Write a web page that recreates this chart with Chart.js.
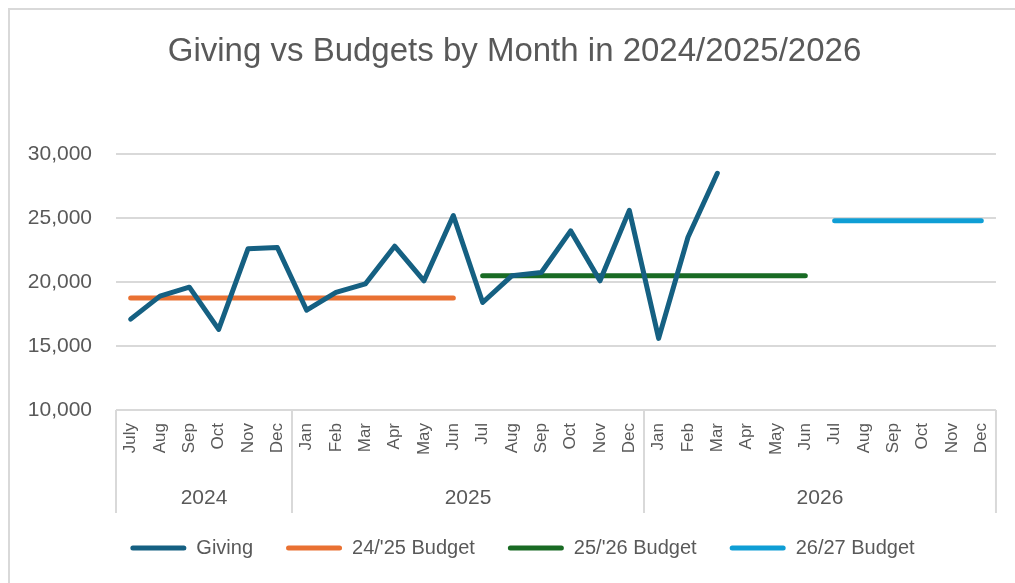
<!DOCTYPE html>
<html lang="en">
<head>
    <meta charset="UTF-8">
    <title>Giving vs Budgets by Month</title>
    <script src="https://cdn.jsdelivr.net/npm/chart.js@4.4.1/dist/chart.umd.min.js"></script>
    <style>
        html, body { margin: 0; padding: 0; background: #fff; overflow: hidden; }
        .frame { position: absolute; left: 8px; top: 8px; width: 1005px; height: 573px;
                 border-left: 2px solid #d9d9d9; border-top: 2px solid #d9d9d9; }
    </style>
</head>
<body>
    <div class="frame"><canvas id="chart"></canvas></div>

    <script>
        const months = ['July', 'Aug', 'Sep', 'Oct', 'Nov', 'Dec',
            'Jan', 'Feb', 'Mar', 'Apr', 'May', 'Jun', 'Jul', 'Aug', 'Sep', 'Oct', 'Nov', 'Dec',
            'Jan', 'Feb', 'Mar', 'Apr', 'May', 'Jun', 'Jul', 'Aug', 'Sep', 'Oct', 'Nov', 'Dec'];
        const years = ['2024', '2025', '2026'];
        const yearStarts = [0, 6, 18, 30];

        const giving = [17100, 18900, 19600, 16300, 22600, 22700,
            17800, 19200, 19850, 22800, 20100, 25200, 18400, 20500, 20750, 24000, 20100, 25600,
            15600, 23500, 28500];
        const budget2425 = [18750, 18750, 18750, 18750, 18750, 18750,
            18750, 18750, 18750, 18750, 18750, 18750];
        const budget2526 = [null, null, null, null, null, null, null, null, null, null, null, null,
            20500, 20500, 20500, 20500, 20500, 20500, 20500, 20500, 20500, 20500, 20500, 20500];
        const budget2627 = [null, null, null, null, null, null, null, null, null, null, null, null,
            null, null, null, null, null, null, null, null, null, null, null, null,
            24800, 24800, 24800, 24800, 24800, 24800];

        const font = "'Liberation Sans', Arial, sans-serif";
        const textColor = '#595959';
        const gridColor = '#d9d9d9';

        // year row under the month labels, with the group separators
        const yearAxis = {
            id: 'yearAxis',
            afterLayout(chart) {
                // title and legend sit a little right of the canvas centre in the original
                chart.titleBlock.left += 11;
                chart.titleBlock.right += 11;
                chart.legend.left += 19;
                chart.legend.right += 19;
            },
            afterDraw(chart) {
                const x = chart.scales.x;
                const ctx = chart.ctx;
                const bottom = chart.chartArea.bottom;
                const half = (x.getPixelForValue(1) - x.getPixelForValue(0)) / 2;
                ctx.save();
                ctx.strokeStyle = gridColor;
                ctx.lineWidth = 2;
                yearStarts.forEach(i => {
                    const px = i < months.length ? x.getPixelForValue(i) - half : x.getPixelForValue(months.length - 1) + half;
                    ctx.beginPath();
                    ctx.moveTo(px, bottom);
                    ctx.lineTo(px, bottom + 103);
                    ctx.stroke();
                });
                ctx.fillStyle = textColor;
                ctx.font = '21px ' + font;
                ctx.textAlign = 'center';
                ctx.textBaseline = 'middle';
                years.forEach((y, k) => {
                    const a = x.getPixelForValue(yearStarts[k]) - half;
                    const b = x.getPixelForValue(yearStarts[k + 1] - 1) + half;
                    ctx.fillText(y, (a + b) / 2, bottom + 88);
                });
                ctx.restore();
            }
        };

        function line(label, data, color) {
            return {
                label: label,
                data: data,
                borderColor: color,
                backgroundColor: color,
                borderWidth: 5,
                pointRadius: 0,
                borderCapStyle: 'round',
                borderJoinStyle: 'round',
                tension: 0,
                spanGaps: false
            };
        }

        new Chart(document.getElementById('chart'), {
            type: 'line',
            data: {
                labels: months,
                datasets: [
                    line('Giving', giving, '#156082'),
                    line("24/'25 Budget", budget2425, '#E97132'),
                    line("25/'26 Budget", budget2526, '#196B24'),
                    line('26/27 Budget', budget2627, '#0F9ED5')
                ]
            },
            options: {
                responsive: true,
                maintainAspectRatio: false,
                animation: false,
                layout: { padding: { left: 0, right: 18, top: 0, bottom: 15 } },
                plugins: {
                    title: {
                        display: true,
                        text: 'Giving vs Budgets by Month in 2024/2025/2026',
                        color: textColor,
                        font: { family: font, size: 33, weight: 'normal' },
                        padding: { top: 22, bottom: 82.5 }
                    },
                    legend: {
                        position: 'bottom',
                        labels: {
                            color: textColor,
                            font: { family: font, size: 20 },
                            boxWidth: 56,
                            boxHeight: 5,
                            padding: 33,
                            generateLabels(chart) {
                                return Chart.defaults.plugins.legend.labels.generateLabels(chart).map(item => {
                                    item.lineWidth = 0;
                                    item.borderRadius = 2.5;
                                    return item;
                                });
                            }
                        }
                    },
                    tooltip: { enabled: false }
                },
                scales: {
                    x: {
                        offset: true,
                        grid: { display: false, drawTicks: false },
                        border: { display: false },
                        ticks: {
                            color: textColor,
                            font: { family: font, size: 17 },
                            minRotation: 90,
                            maxRotation: 90,
                            autoSkip: false,
                            padding: 13
                        },
                        afterFit(scale) { scale.height = 95; }
                    },
                    y: {
                        min: 10000,
                        max: 30000,
                        grid: { color: gridColor, lineWidth: 2, drawTicks: false },
                        border: { display: false },
                        ticks: {
                            stepSize: 5000,
                            color: textColor,
                            font: { family: font, size: 21 },
                            padding: 24,
                            callback: v => v.toLocaleString('en-US')
                        },
                        afterFit(scale) { scale.width = 106; }
                    }
                }
            },
            plugins: [yearAxis]
        });
    </script>
</body>
</html>
